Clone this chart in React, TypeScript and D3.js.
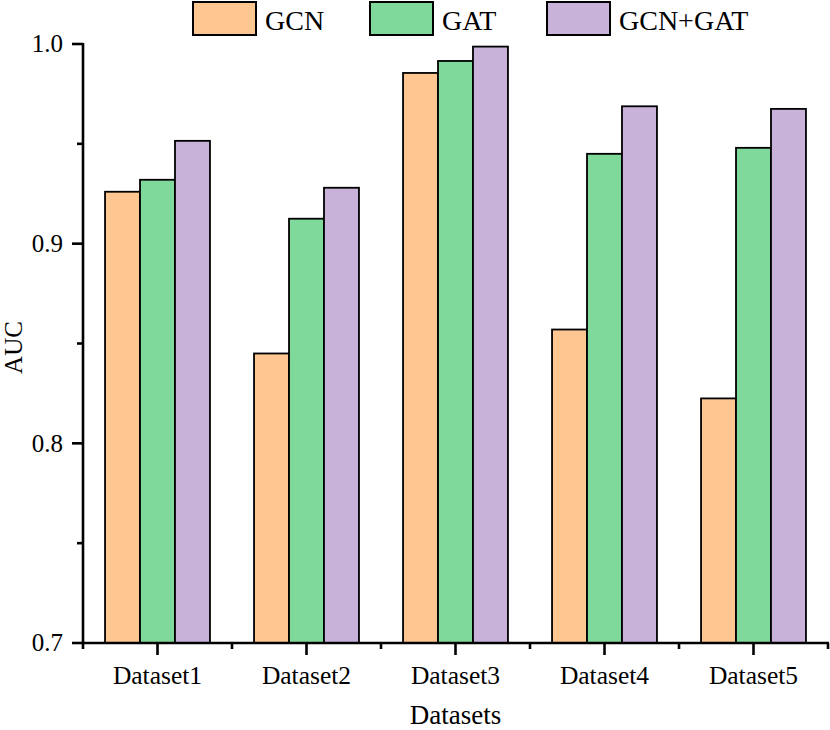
import { useEffect, useRef } from 'react'
import * as d3 from 'd3'

const DATASETS = ['Dataset1', 'Dataset2', 'Dataset3', 'Dataset4', 'Dataset5']
const SERIES = ['GCN', 'GAT', 'GCN+GAT']
const GCN = [0.926, 0.845, 0.9855, 0.857, 0.8225]
const GAT = [0.932, 0.9125, 0.9915, 0.945, 0.948]
const GCN_GAT = [0.9515, 0.928, 0.9987, 0.9688, 0.9675]
const Y_TICKS = [0.7, 0.8, 0.9, 1.0]
const Y_MINOR = [0.75, 0.85, 0.95]
const COLORS = ['#FEC792', '#7FD99A', '#C8B2D9']

const W = 830
const H = 730
const FONT = '"Liberation Serif", "Times New Roman", serif'

export default function App() {
  const ref = useRef<SVGSVGElement | null>(null)

  useEffect(() => {
    if (!ref.current) return
    const svg = d3.select(ref.current)
    svg.selectAll('*').remove()

    const left = 83
    const right = 828
    const top = 44
    const bottom = 643

    const y = d3.scaleLinear().domain([0.7, 1.0]).range([bottom, top])
    const x0 = d3.scaleBand<string>().domain(DATASETS).range([left, right]).padding(0)
    const x1 = d3
      .scaleBand<string>()
      .domain(SERIES)
      .range([0, x0.bandwidth()])
      .paddingInner(0)
      .paddingOuter(0.63)

    const values = [GCN, GAT, GCN_GAT]

    // Bars
    DATASETS.forEach((ds, i) => {
      SERIES.forEach((s, j) => {
        const v = values[j][i]
        svg
          .append('rect')
          .attr('x', (x0(ds) ?? 0) + (x1(s) ?? 0))
          .attr('y', y(v))
          .attr('width', x1.bandwidth())
          .attr('height', bottom - y(v))
          .attr('fill', COLORS[j])
          .attr('stroke', '#000')
          .attr('stroke-width', 1.8)
      })
    })

    // Y axis
    svg
      .append('line')
      .attr('x1', left)
      .attr('x2', left)
      .attr('y1', top - 1)
      .attr('y2', bottom + 1)
      .attr('stroke', '#000')
      .attr('stroke-width', 2.6)

    Y_TICKS.forEach((t) => {
      svg
        .append('line')
        .attr('x1', left - 11)
        .attr('x2', left)
        .attr('y1', y(t))
        .attr('y2', y(t))
        .attr('stroke', '#000')
        .attr('stroke-width', 2.6)
      svg
        .append('text')
        .attr('x', left - 20)
        .attr('y', y(t))
        .attr('dy', '0.33em')
        .attr('text-anchor', 'end')
        .attr('font-family', FONT)
        .attr('font-size', 25)
        .text(d3.format('.1f')(t))
    })
    Y_MINOR.forEach((t) => {
      svg
        .append('line')
        .attr('x1', left - 6)
        .attr('x2', left)
        .attr('y1', y(t))
        .attr('y2', y(t))
        .attr('stroke', '#000')
        .attr('stroke-width', 2.6)
    })

    // X axis
    svg
      .append('line')
      .attr('x1', left - 1)
      .attr('x2', right + 1)
      .attr('y1', bottom)
      .attr('y2', bottom)
      .attr('stroke', '#000')
      .attr('stroke-width', 2.6)

    DATASETS.forEach((ds) => {
      const cx = (x0(ds) ?? 0) + x0.bandwidth() / 2
      svg
        .append('line')
        .attr('x1', cx)
        .attr('x2', cx)
        .attr('y1', bottom)
        .attr('y2', bottom + 12)
        .attr('stroke', '#000')
        .attr('stroke-width', 2.6)
      svg
        .append('text')
        .attr('x', cx)
        .attr('y', 684)
        .attr('text-anchor', 'middle')
        .attr('font-family', FONT)
        .attr('font-size', 25.5)
        .text(ds)
    })
    const bounds = DATASETS.map((ds) => x0(ds) ?? 0).concat([right])
    bounds.forEach((bx) => {
      svg
        .append('line')
        .attr('x1', bx)
        .attr('x2', bx)
        .attr('y1', bottom)
        .attr('y2', bottom + 6)
        .attr('stroke', '#000')
        .attr('stroke-width', 2.6)
    })

    // Axis titles
    svg
      .append('text')
      .attr('x', (left + right) / 2)
      .attr('y', 724)
      .attr('text-anchor', 'middle')
      .attr('font-family', FONT)
      .attr('font-size', 27)
      .text('Datasets')

    svg
      .append('text')
      .attr('transform', `translate(22, ${(top + bottom) / 2 + 4}) rotate(-90)`)
      .attr('text-anchor', 'middle')
      .attr('font-family', FONT)
      .attr('font-size', 25)
      .text('AUC')

    // Legend
    SERIES.forEach((s, j) => {
      const lx = 193 + j * 177
      svg
        .append('rect')
        .attr('x', lx)
        .attr('y', 2)
        .attr('width', 63)
        .attr('height', 33)
        .attr('fill', COLORS[j])
        .attr('stroke', '#000')
        .attr('stroke-width', 2)
      svg
        .append('text')
        .attr('x', lx + 72)
        .attr('y', 30)
        .attr('font-family', FONT)
        .attr('font-size', 28)
        .text(s)
    })
  }, [])

  return (
    <svg
      ref={ref}
      width={W}
      height={H}
      viewBox={`0 0 ${W} ${H}`}
      style={{ position: 'absolute', left: 0, top: 0, background: '#fff' }}
    />
  )
}
